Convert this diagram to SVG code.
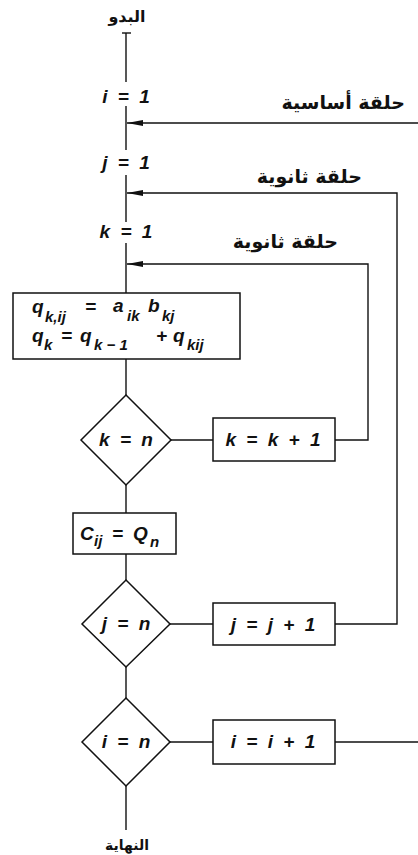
<svg xmlns="http://www.w3.org/2000/svg" width="418" height="855" viewBox="0 0 418 855">
<style>
.ln{stroke:#111;stroke-width:1.4;fill:none}
.bx{stroke:#111;stroke-width:1.5;fill:#fff}
.m{font-family:"Liberation Sans",Arial,sans-serif;font-weight:bold;font-style:italic;font-size:19px;fill:#111;word-spacing:5px}
.s{font-size:15px}
.ar{font-family:"DejaVu Sans","Noto Sans",sans-serif;font-weight:bold;font-size:19px;fill:#111}
</style>
<defs>
<marker id="ah" viewBox="0 0 16 6" refX="16" refY="3" markerWidth="16" markerHeight="6" markerUnits="userSpaceOnUse" orient="auto">
<path d="M16,3 L0,0 L0,6 Z" fill="#111"/>
</marker>
</defs>
<g id="connectors">
<path class="ln" d="M122,33 H131"/>
<path class="ln" d="M126,33 V82"/>
<path class="ln" d="M126,106 V150"/>
<path class="ln" d="M126,175 V222"/>
<path class="ln" d="M126,243 V293"/>
<path class="ln" d="M126,359 V395"/>
<path class="ln" d="M126,485 V513"/>
<path class="ln" d="M126,554 V580"/>
<path class="ln" d="M126,667 V698"/>
<path class="ln" d="M126,786 V830"/>
<path class="ln" d="M171,440 H213"/>
<path class="ln" d="M335,440 H368 V264 H127" marker-end="url(#ah)"/>
<path class="ln" d="M170,624 H213"/>
<path class="ln" d="M335,624 H397 V193 H127" marker-end="url(#ah)"/>
<path class="ln" d="M170,742 H213"/>
<path class="ln" d="M335,742 H418"/>
<path class="ln" d="M418,123 H127" marker-end="url(#ah)"/>
</g>
<g id="start"><text class="ar" style="font-size:16px" x="127" y="22" text-anchor="middle">البدو</text></g>
<g id="init-i"><text class="m" x="126" y="103" text-anchor="middle">i = 1</text></g>
<g id="init-j"><text class="m" x="126" y="169" text-anchor="middle">j = 1</text></g>
<g id="init-k"><text class="m" x="126" y="238" text-anchor="middle">k = 1</text></g>
<g id="label-main"><text class="ar" x="405" y="109" text-anchor="end">حلقة أساسية</text></g>
<g id="label-j"><text class="ar" x="362" y="183" text-anchor="end">حلقة ثانوية</text></g>
<g id="label-k"><text class="ar" x="338" y="248" text-anchor="end">حلقة ثانوية</text></g>
<g id="box-q">
<rect class="bx" x="13" y="293" width="227" height="66"/>
<text class="m" style="word-spacing:0"><tspan x="32" y="313">q</tspan><tspan class="s" x="45" y="322">k,ij</tspan><tspan x="85" y="313">=</tspan><tspan x="113" y="312">a</tspan><tspan class="s" x="127" y="321">ik</tspan><tspan x="148" y="312">b</tspan><tspan class="s" x="162" y="321">kj</tspan></text>
<text class="m" style="word-spacing:0"><tspan x="32" y="342">q</tspan><tspan class="s" x="44" y="350">k</tspan><tspan x="61" y="342">=</tspan><tspan x="80" y="342">q</tspan><tspan class="s" x="94" y="350">k − 1</tspan><tspan x="156" y="342">+</tspan><tspan x="173" y="342">q</tspan><tspan class="s" x="187" y="350">kij</tspan></text>
</g>
<g id="dec-k">
<polygon class="bx" points="126,395 171,440 126,485 81,440"/>
<text class="m" x="126" y="446" text-anchor="middle">k = n</text>
</g>
<g id="box-kinc">
<rect class="bx" x="213" y="418" width="122" height="43"/>
<text class="m" x="273" y="446" text-anchor="middle">k = k + 1</text>
</g>
<g id="box-c">
<rect class="bx" x="73" y="513" width="103" height="41"/>
<text class="m" style="word-spacing:0"><tspan x="80" y="540">C</tspan><tspan class="s" x="94" y="546">ij</tspan><tspan x="112" y="540">=</tspan><tspan x="133" y="540">Q</tspan><tspan class="s" x="150" y="547">n</tspan></text>
</g>
<g id="dec-j">
<polygon class="bx" points="126,580 170,624 126,667 82,624"/>
<text class="m" x="126" y="630" text-anchor="middle">j = n</text>
</g>
<g id="box-jinc">
<rect class="bx" x="213" y="603" width="122" height="42"/>
<text class="m" x="273" y="631" text-anchor="middle">j = j + 1</text>
</g>
<g id="dec-i">
<polygon class="bx" points="126,698 170,742 126,786 82,742"/>
<text class="m" x="126" y="748" text-anchor="middle">i = n</text>
</g>
<g id="box-iinc">
<rect class="bx" x="213" y="720" width="122" height="44"/>
<text class="m" x="273" y="748" text-anchor="middle">i = i + 1</text>
</g>
<g id="end"><text class="ar" style="font-size:14px" x="127" y="850" text-anchor="middle">النهاية</text></g>
</svg>
